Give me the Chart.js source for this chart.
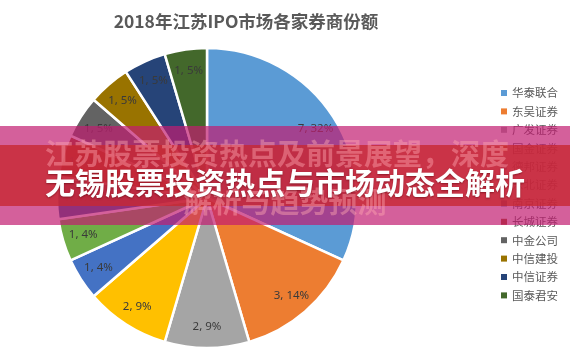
<!DOCTYPE html>
<html lang="zh-CN">
<head>
  <meta charset="UTF-8" />
  <title>2018年江苏IPO市场各家券商份额</title>
  <script src="https://cdn.jsdelivr.net/npm/chart.js"></script>
  <style>
    html, body {
      margin: 0;
      padding: 0;
      background: #fff;
    }
    .wrap {
      position: relative;
      width: 570px;
      height: 353px;
      overflow: hidden;
      font-family: "Noto Sans CJK SC", "Noto Sans", sans-serif;
    }
    .band-pink {
      position: absolute;
      left: 0; top: 126px;
      width: 570px; height: 99px;
      background: rgba(194, 28, 112, 0.7);
    }
    .band-red {
      position: absolute;
      left: 0; top: 145px;
      width: 570px; height: 61px;
      background: rgba(200, 40, 50, 0.8);
    }
    .ghost {
      position: absolute;
      left: 0; width: 570px;
      text-align: center;
      font-weight: bold;
      font-size: 29px;
      line-height: 29px;
      color: rgba(255, 165, 175, 0.45);
      white-space: nowrap;
    }
    .headline {
      position: absolute;
      left: 0; width: 570px;
      top: 166px;
      text-align: center;
      font-weight: bold;
      font-size: 30px;
      line-height: 30px;
      color: #fff;
      text-shadow: 0 1px 2px rgba(80, 0, 10, 0.5);
      white-space: nowrap;
    }
  </style>
</head>
<body>
<div class="wrap">
  <canvas id="pie" width="570" height="353"></canvas>
  <div class="band-pink"></div>
  <div class="band-red"></div>
  <div class="ghost" style="top:138px; left:-8px;">江苏股票投资热点及前景展望，深度</div>
  <div class="ghost" style="top:186px;">解析与趋势预测</div>
  <div class="headline">无锡股票投资热点与市场动态全解析</div>
</div>
<script>
  const titleText = '2018年江苏IPO市场各家券商份额';
  const brokers = ['华泰联合', '东吴证券', '广发证券', '国金证券', '德邦证券', '东北证券',
                   '南京证券', '长城证券', '中金公司', '中信建投', '中信证券', '国泰君安'];
  const deals = [7, 3, 2, 2, 1, 1, 1, 1, 1, 1, 1, 1];
  const shares = [32, 14, 9, 9, 4, 4, 4, 4, 5, 5, 5, 5];
  const colors = ['#5B9BD5', '#ED7D31', '#A5A5A5', '#FFC000', '#4472C4', '#70AD47',
                  '#255E91', '#9E480E', '#636363', '#997300', '#264478', '#43682B'];

  // title, legend and slice labels drawn onto the canvas
  const extras = {
    id: 'extras',
    afterDatasetsDraw(chart) {
      const ctx = chart.ctx;
      ctx.save();
      // slice labels
      ctx.font = '11.5px "Noto Sans", "DejaVu Sans", sans-serif';
      ctx.fillStyle = '#3a3a3a';
      ctx.textAlign = 'center';
      ctx.textBaseline = 'middle';
      chart.getDatasetMeta(0).data.forEach((arc, i) => {
        const p = arc.getProps(['x', 'y', 'startAngle', 'endAngle', 'outerRadius'], true);
        const a = (p.startAngle + p.endAngle) / 2;
        const r = p.outerRadius * 0.86;
        ctx.fillText(deals[i] + ', ' + shares[i] + '%', p.x + Math.cos(a) * r, p.y + Math.sin(a) * r);
      });
      // title
      ctx.font = 'bold 17.5px "Noto Sans CJK SC", sans-serif';
      ctx.fillStyle = '#595959';
      ctx.fillText(titleText, 246, 21);
      // legend
      ctx.font = '11.5px "Noto Sans CJK SC", sans-serif';
      ctx.textAlign = 'left';
      brokers.forEach((b, i) => {
        const y = 93 + i * 18.4;
        ctx.fillStyle = colors[i];
        ctx.fillRect(501, y - 3, 6, 6);
        ctx.fillStyle = '#595959';
        ctx.fillText(b, 512, y);
      });
      ctx.restore();
    }
  };

  new Chart(document.getElementById('pie'), {
    type: 'pie',
    data: {
      labels: brokers,
      datasets: [{
        data: deals,
        backgroundColor: colors,
        borderColor: '#ffffff',
        borderWidth: 2.5
      }]
    },
    options: {
      responsive: false,
      animation: false,
      radius: 150,
      layout: { padding: { left: 0, right: 156, top: 48, bottom: 5 } },
      plugins: {
        legend: { display: false },
        tooltip: { enabled: false },
        title: { display: false }
      }
    },
    plugins: [extras]
  });
</script>
</body>
</html>
